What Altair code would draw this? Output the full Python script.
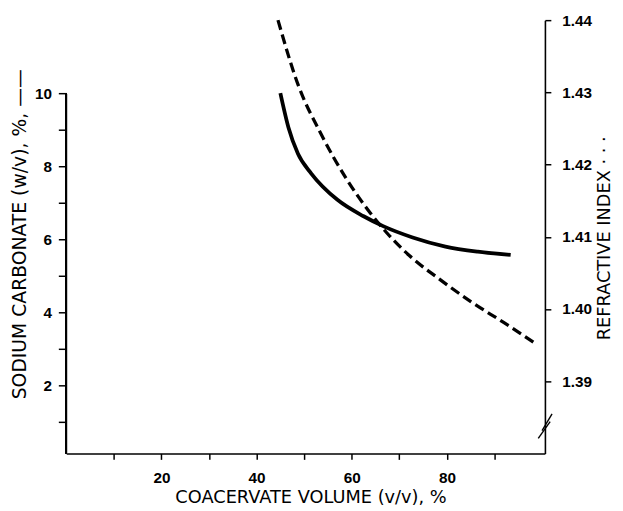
import altair as alt
import pandas as pd

# Sodium carbonate (solid curve, left axis)
volume_na = [45.0, 46.7, 48.7, 51.5, 57.0, 62.5, 66.6, 72.8, 79.7, 86.5, 93.4]
sodium_carbonate = [10.0, 9.06, 8.34, 7.80, 7.08, 6.63, 6.36, 6.05, 5.80, 5.66, 5.57]

# Refractive index (dashed curve, right axis)
volume_ri = [44.5, 48.7, 53.5, 59.0, 63.9, 67.3, 72.1, 78.3, 85.1, 92.0, 98.9]
refractive_index = [1.4400, 1.4311, 1.4243, 1.4179, 1.4133, 1.4106, 1.4074, 1.4042, 1.4010, 1.3981, 1.3951]

x_ticks = [10, 20, 30, 40, 50, 60, 70, 80, 90]
left_ticks = [1, 2, 3, 4, 5, 6, 7, 8, 9, 10]
right_ticks = [1.39, 1.40, 1.41, 1.42, 1.43, 1.44]

x_domain = [0, 100.6]
left_domain = [0.135, 12]
right_domain = [1.38, 1.44]

# axis break marks on the right axis (x, x2, y, y2)
break_x = [100.0, 99.2]
break_x2 = [102.1, 101.7]
break_y = [1.38317, 1.38208]
break_y2 = [1.38549, 1.38440]

W, H = 485, 439
LABEL_FONT = "Liberation Sans"
TITLE_FONT = "DejaVu Sans"
LABEL_SIZE = 15.5

df_na = pd.DataFrame({"v": volume_na, "na": sodium_carbonate})
df_ri = pd.DataFrame({"v": volume_ri, "ri": refractive_index})
df_break = pd.DataFrame({"x": break_x, "x2": break_x2, "y": break_y, "y2": break_y2})

common = dict(
    grid=False,
    tickWidth=1.5,
    domainWidth=1.6,
    labelFont=LABEL_FONT,
    labelFontWeight="bold",
    labelFontSize=LABEL_SIZE,
    titleFont=TITLE_FONT,
    titleFontWeight="normal",
)

x_enc = alt.X(
    "v:Q",
    scale=alt.Scale(domain=x_domain, nice=False, zero=False),
    axis=alt.Axis(
        values=x_ticks,
        labelExpr="datum.value % 20 == 0 ? datum.label : ''",
        title="COACERVATE VOLUME (v/v), %",
        tickSize=6,
        labelPadding=11,
        titleFontSize=18,
        titleX=W / 2 + 5,
        titleY=45,
        titleAlign="center",
        titleBaseline="middle",
        **common,
    ),
)

left_scale = alt.Scale(domain=left_domain, nice=False, zero=False)
right_scale = alt.Scale(domain=right_domain, nice=False, zero=False)

solid = alt.Chart(df_na).mark_line(
    color="black", strokeWidth=3.8, interpolate="monotone"
).encode(
    x=x_enc,
    y=alt.Y(
        "na:Q",
        scale=left_scale,
        axis=alt.Axis(
            values=left_ticks,
            labelExpr="datum.value % 2 == 0 ? datum.label : ''",
            title="SODIUM CARBONATE (w/v), %, ——",
            domain=False,
            tickSize=8,
            labelPadding=7,
            titleFontSize=19,
            titleAngle=270,
            titleX=-47,
            titleY=H / 2 - 3,
            titleAlign="center",
            titleBaseline="middle",
            **common,
        ),
    ),
)

left_line = alt.Chart(df_na).mark_rule(color="black", strokeWidth=1.6).encode(
    x=alt.value(0),
    y=alt.datum(max(left_ticks), scale=left_scale),
    y2=alt.datum(left_domain[0]),
)

dashed = alt.Chart(df_ri).mark_line(
    color="black", strokeWidth=3.3, strokeDash=[10, 5], interpolate="monotone"
).encode(
    x=alt.X("v:Q"),
    y=alt.Y(
        "ri:Q",
        scale=right_scale,
        axis=alt.Axis(
            orient="right",
            values=right_ticks,
            format=".2f",
            title="REFRACTIVE INDEX · · ·",
            tickSize=6,
            labelPadding=11,
            titleFontSize=18,
            titleAngle=270,
            titleX=60,
            titleY=H / 2 + 1,
            titleAlign="center",
            titleBaseline="middle",
            **common,
        ),
    ),
)

breaks = alt.Chart(df_break).mark_rule(color="black", strokeWidth=1.4).encode(
    x="x:Q", x2="x2:Q", y="y:Q", y2="y2:Q"
)

left_layer = alt.layer(solid, left_line)
right_layer = alt.layer(dashed, breaks)

chart = alt.layer(left_layer, right_layer).resolve_scale(
    y="independent"
).properties(
    width=W,
    height=H,
    autosize=alt.AutoSizeParams(type="none"),
    padding={"left": 59, "top": 9, "right": 71, "bottom": 54},
).configure_view(stroke=None).configure_axis(
    domainColor="black", tickColor="black", labelColor="black", titleColor="black"
)

chart.save("out.html", embed_options={"renderer": "svg", "actions": False})
